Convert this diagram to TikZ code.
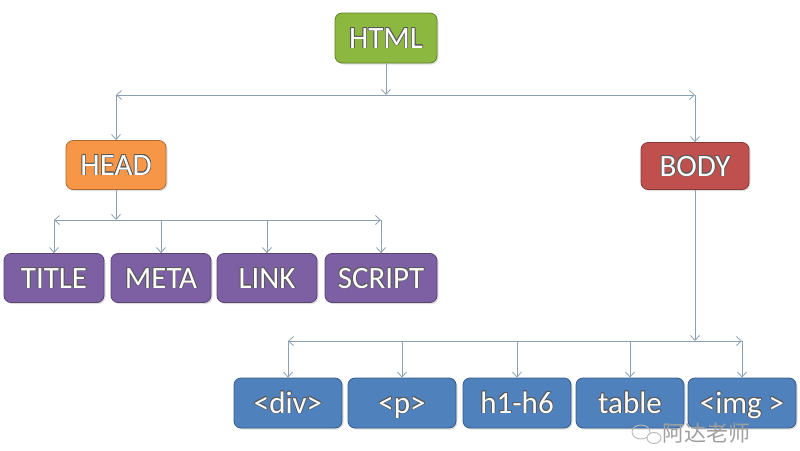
\documentclass[tikz,border=0pt]{standalone}
\usepackage{fontspec}
\setmainfont{Carlito}
\newfontfamily\cjkfont{Noto Sans CJK SC}
\usepackage{xcolor}
\usepackage{contour}
\contourlength{0.7pt}
\usetikzlibrary{shadows, arrows.meta}

\definecolor{htmlgreen}{HTML}{8DB83F}
\definecolor{headorange}{HTML}{F79646}
\definecolor{bodyred}{HTML}{C0504D}
\definecolor{tagpurple}{HTML}{7D5FA3}
\definecolor{tagblue}{HTML}{4F81BD}
\definecolor{wiregray}{HTML}{8A9FB2}

\newcommand{\lab}[1]{\contour{black!65}{#1}}

\tikzset{
  tag/.style={rounded corners=7pt, fill=#1, draw=#1!70!black, line width=0.8pt,
    text=white, minimum width=100pt, minimum height=49pt, inner sep=0pt,
    text height=24pt, text depth=4pt,
    font=\fontsize{31}{32}\selectfont,
    drop shadow={opacity=0.25, shadow xshift=1.5pt, shadow yshift=-1.5pt}},
  wire/.style={draw=wiregray, line width=0.8pt, -{Straight Barb[length=5pt, width=9pt]}}
}

\begin{document}
\begin{tikzpicture}[x=1pt, y=-1pt]
  \useasboundingbox (0,0) rectangle (800,450);
  % top level
  \node[tag=htmlgreen, minimum width=102pt, minimum height=50pt] (html) at (386,38) {\lab{HTML}};
  \node[tag=headorange] (head) at (116,165) {\lab{HEAD}};
  \node[tag=bodyred, minimum width=108pt, minimum height=47pt] (body) at (695,166) {\lab{BODY}};
  % head children
  \foreach \name/\x/\w/\txt in {title/54/100/TITLE, meta/161/100/META, link/267/100/LINK, script/381/112/SCRIPT}
    \node[tag=tagpurple, minimum width=\w pt] (\name) at (\x,278) {\lab{\txt}};
  % body children
  \foreach \name/\x/\txt in {div/288/{<div>}, p/402/{<p>}, hx/517/{h1-h6}, table/630/{table}, img/742/{<img >}}
    \node[tag=tagblue, minimum width=108pt, minimum height=50pt] (\name) at (\x,403) {\lab{\txt}};

  % html -> head, body
  \coordinate (top) at (386,95);
  \draw[wire] (html) -- (top);
  \draw[wire] (top) -- (head |- top);
  \draw[wire] (top) -- (body |- top);
  \draw[wire] (head |- top) -- (head);
  \draw[wire] (body |- top) -- (body);

  % head -> children
  \coordinate (hbus) at (116,220);
  \draw[wire] (head) -- (hbus);
  \draw[wire] (hbus) -- (title |- hbus);
  \draw[wire] (hbus) -- (script |- hbus);
  \foreach \c in {title, meta, link, script}
    \draw[wire] (\c |- hbus) -- (\c);

  % body -> children
  \coordinate (bbus) at (695,341);
  \draw[wire] (body) -- (bbus);
  \draw[wire] (bbus) -- (div |- bbus);
  \draw[wire] (bbus) -- (img |- bbus);
  \foreach \c in {div, p, hx, table, img}
    \draw[wire] (\c |- bbus) -- (\c);

  % watermark
  \draw[gray!55, line width=0.9pt] (641,432) ellipse (9pt and 7pt);
  \draw[gray!55, line width=0.9pt, fill=white] (654,438) ellipse (7pt and 5.5pt);
  \node[text=gray!75, font=\cjkfont\fontsize{22}{22}\selectfont] (mark) at (706,433) {阿达老师};
\end{tikzpicture}
\end{document}
